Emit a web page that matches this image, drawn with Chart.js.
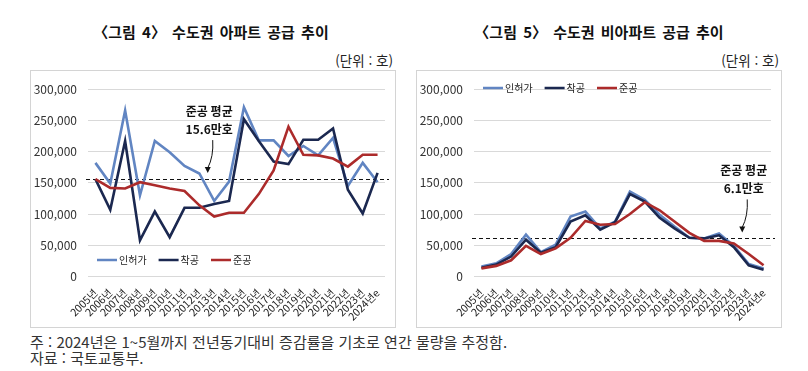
<!DOCTYPE html>
<html lang="ko">
<head>
<meta charset="utf-8">
<script src="https://cdn.jsdelivr.net/npm/chart.js@4.4.1/dist/chart.umd.min.js"></script>
<style>
  body { margin: 0; background: #fff; font-family: 'Noto Sans CJK KR', sans-serif; color: #222; }
  #page { position: relative; width: 808px; height: 371px; overflow: hidden; }
  .title { position: absolute; top: 22px; width: 366px; font-weight: bold; font-size: 15px; line-height: 20px; word-spacing: 2px; text-align: center; white-space: nowrap; color: #111; }
  .unit { position: absolute; top: 51px; width: 366px; font-size: 13.5px; line-height: 18px; text-align: right; white-space: nowrap; color: #222; }
  .panel { position: absolute; top: 70px; width: 366px; height: 258px; border: 1px solid #d4d4d4; box-sizing: border-box; }
  .panel canvas { position: absolute; left: 0; top: 0; }
  .note { position: absolute; left: 30px; font-size: 15px; line-height: 18px; color: #333; white-space: nowrap; }
</style>
</head>
<body>
<div id="page">
  <div class="title" style="left:28px">〈그림 4〉 수도권 아파트 공급 추이</div>
  <div class="unit" style="left:27px">(단위 : 호)</div>
  <div class="panel" style="left:30px"><canvas id="aptChart" width="364" height="256"></canvas></div>

  <div class="title" style="left:416px">〈그림 5〉 수도권 비아파트 공급 추이</div>
  <div class="unit" style="left:413px">(단위 : 호)</div>
  <div class="panel" style="left:416px"><canvas id="nonAptChart" width="364" height="256"></canvas></div>

  <div class="note" style="top:333px">주 : 2024년은 1~5월까지 전년동기대비 증감률을 기초로 연간 물량을 추정함.</div>
  <div class="note" style="top:349px">자료 : 국토교통부.</div>
</div>

<script>
// data
const years = ['2005년', '2006년', '2007년', '2008년', '2009년', '2010년', '2011년', '2012년', '2013년', '2014년',
  '2015년', '2016년', '2017년', '2018년', '2019년', '2020년', '2021년', '2022년', '2023년', '2024년e'];
const seriesNames = ['인허가', '착공', '준공'];

const aptPermit = [182000, 149000, 266000, 130000, 217000, 199000, 177000, 165000, 121000, 152000,
  271000, 218000, 218000, 193000, 209000, 194000, 222000, 145000, 182000, 151000];
const aptStart = [156000, 107000, 217000, 58000, 104000, 63000, 110000, 110000, 116000, 121000,
  252000, 217000, 184000, 180000, 219000, 219000, 237000, 139000, 101000, 166000];
const aptDone = [156000, 142000, 141000, 151000, 146000, 141000, 137000, 114000, 96000, 102000,
  102000, 132000, 170000, 240000, 195000, 194000, 189000, 176000, 195000, 195000];
const aptDoneAvg = 156000;

const nonPermit = [16000, 21000, 36000, 67000, 39000, 51000, 96000, 104000, 77000, 88000,
  136000, 123000, 99000, 80000, 62000, 61000, 69000, 49000, 20000, 13000];
const nonStart = [14000, 19000, 32000, 59000, 38000, 47000, 88000, 98000, 75000, 87000,
  132000, 120000, 94000, 77000, 62000, 61000, 66000, 47000, 18000, 11000];
const nonDone = [13000, 17000, 26000, 49000, 36000, 45000, 62000, 89000, 83000, 84000,
  100000, 119000, 106000, 88000, 70000, 57000, 57000, 53000, 36000, 18000];
const nonDoneAvg = 61000;

const yMin = 0;
const yMax = 300000;
const yStep = 50000;

const FONT = "'Noto Sans CJK KR', 'Noto Sans', sans-serif";
const colors = ['#6185c2', '#1b2850', '#ac2b2b'];

// dashed average line, note with arrow, and legend drawn inside the plot
const avgMark = {
  id: 'avgMark',
  beforeDatasetsDraw(chart, args, opts) {
    const { ctx, chartArea, scales: { y } } = chart;
    const yy = Math.round(y.getPixelForValue(opts.value)) + 0.5;
    ctx.save();
    ctx.strokeStyle = '#111';
    ctx.lineWidth = 1;
    ctx.setLineDash([4, 3]);
    ctx.beginPath();
    ctx.moveTo(chartArea.left - 2, yy);
    ctx.lineTo(chartArea.right + 4, yy);
    ctx.stroke();
    ctx.restore();
  },
  afterDatasetsDraw(chart, args, opts) {
    const { ctx, scales: { x, y } } = chart;
    const yy = y.getPixelForValue(opts.value);
    const cx = x.getPixelForValue(opts.noteIndex);

    ctx.save();
    ctx.fillStyle = '#111';
    ctx.font = 'bold 12px ' + FONT;
    ctx.textAlign = 'center';
    ctx.textBaseline = 'middle';
    ctx.fillText(opts.lines[0], cx - 5, yy - 68);
    ctx.fillText(opts.lines[1], cx - 5, yy - 50);

    // curved arrow
    const sx = cx - 1.5, sy = yy - 39;
    const tx = cx - 6.5, ty = yy - 6;
    ctx.strokeStyle = '#111';
    ctx.lineWidth = 1;
    ctx.beginPath();
    ctx.moveTo(sx, sy);
    ctx.quadraticCurveTo(sx + 1, (sy + ty) / 2, tx, ty - 5);
    ctx.stroke();
    ctx.beginPath();
    ctx.moveTo(tx - 3, ty - 6);
    ctx.lineTo(tx + 3, ty - 6);
    ctx.lineTo(tx, ty);
    ctx.closePath();
    ctx.fill();

    // legend
    let lx = opts.legend.x;
    const ly = opts.legend.y;
    ctx.font = '10px ' + FONT;
    ctx.textAlign = 'left';
    chart.data.datasets.forEach(ds => {
      ctx.strokeStyle = ds.borderColor;
      ctx.lineWidth = 2.5;
      ctx.beginPath();
      ctx.moveTo(lx, ly);
      ctx.lineTo(lx + 20, ly);
      ctx.stroke();
      ctx.fillStyle = '#222';
      ctx.fillText(ds.label, lx + 22, ly + 0.5);
      lx += 22 + ctx.measureText(ds.label).width + 12;
    });
    ctx.restore();
  }
};

function makeChart(id, values, avg, avgText, legendY) {
  return new Chart(document.getElementById(id), {
    type: 'line',
    data: {
      labels: years,
      datasets: values.map((v, i) => ({
        label: seriesNames[i],
        data: v,
        borderColor: colors[i],
        backgroundColor: colors[i],
        borderWidth: 2.6,
        pointRadius: 0,
        tension: 0,
        order: 3 - i
      }))
    },
    options: {
      responsive: false,
      animation: false,
      devicePixelRatio: 1,
      layout: { padding: { top: 12, right: 10, left: 0, bottom: 0 } },
      plugins: {
        legend: { display: false },
        tooltip: { enabled: false },
        avgMark: {
          value: avg,
          noteIndex: avgText.index,
          lines: avgText.lines,
          legend: { x: 66, y: legendY }
        }
      },
      scales: {
        x: {
          offset: true,
          grid: { display: false },
          border: { display: false },
          ticks: {
            autoSkip: false,
            minRotation: 45,
            maxRotation: 45,
            padding: 2,
            color: '#222',
            font: { size: 10.5, family: FONT }
          },
          afterFit: s => { s.height = 50.5; }
        },
        y: {
          min: yMin,
          max: yMax,
          grid: { color: '#d9d9d9', drawTicks: false },
          border: { display: false },
          ticks: {
            stepSize: yStep,
            padding: 11,
            color: '#333',
            font: { size: 12, family: FONT },
            callback: v => v.toLocaleString('en-US')
          },
          afterFit: s => { s.width = 57; }
        }
      }
    },
    plugins: [avgMark]
  });
}

makeChart('aptChart', [aptPermit, aptStart, aptDone], aptDoneAvg,
  { index: 8, lines: ['준공 평균', '15.6만호'] }, 189);
makeChart('nonAptChart', [nonPermit, nonStart, nonDone], nonDoneAvg,
  { index: 18, lines: ['준공 평균', '6.1만호'] }, 17);
</script>
</body>
</html>
